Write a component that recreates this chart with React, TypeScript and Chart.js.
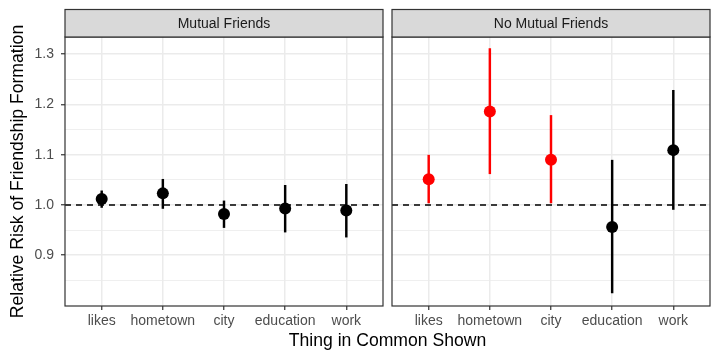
import React, { useEffect, useRef } from "react";
import { Chart, registerables } from "chart.js";

Chart.register(...registerables);

// ---------- data ----------
const CATEGORIES = ["likes", "hometown", "city", "education", "work"];
const PANEL_TITLES = ["Mutual Friends", "No Mutual Friends"];

const MUTUAL_ESTIMATE = [1.012, 1.023, 0.982, 0.993, 0.989];
const MUTUAL_LOW = [0.995, 0.993, 0.955, 0.946, 0.936];
const MUTUAL_HIGH = [1.028, 1.051, 1.008, 1.039, 1.041];
const MUTUAL_SIGNIFICANT = [false, false, false, false, false];

const NO_MUTUAL_ESTIMATE = [1.051, 1.186, 1.09, 0.956, 1.109];
const NO_MUTUAL_LOW = [1.004, 1.062, 1.004, 0.825, 0.991];
const NO_MUTUAL_HIGH = [1.099, 1.311, 1.178, 1.089, 1.228];
const NO_MUTUAL_SIGNIFICANT = [true, true, true, false, false];

const Y_MAJOR_TICKS = [0.9, 1.0, 1.1, 1.2, 1.3];
const Y_MINOR_TICKS = [0.85, 0.95, 1.05, 1.15, 1.25];
const Y_MIN = 0.799;
const Y_MAX = 1.334;
const X_MIN = -0.6;
const X_MAX = 4.6;
const REFERENCE_VALUE = 1.0;

const Y_TITLE = "Relative Risk of Friendship Formation";
const X_TITLE = "Thing in Common Shown";

// ---------- style ----------
const W = 720;
const H = 360;
const FONT = "'Liberation Sans', Arial, Helvetica, sans-serif";
const GRID = "#EBEBEB";
const BORDER = "#333333";
const TEXT_TICK = "#4D4D4D";
const STRIP_FILL = "#D9D9D9";
const STRIP_H = 27.5;
const SIG_COLOR = "#FF0000";
const NS_COLOR = "#000000";

const LEFT_PANEL_LEFT = 65;
const LEFT_PANEL_RIGHT = 383;
const RIGHT_PANEL_LEFT = 392;
const RIGHT_PANEL_RIGHT = 710;
const PANEL_TOP = 37;
const X_AXIS_H = 54;

const stripPlugin = {
  id: "strip",
  afterDraw(chart: any, _args: any, opts: any) {
    const { ctx, chartArea } = chart;
    const { left, right, top } = chartArea;
    ctx.save();
    ctx.fillStyle = STRIP_FILL;
    ctx.fillRect(left, top - STRIP_H, right - left, STRIP_H);
    ctx.strokeStyle = BORDER;
    ctx.lineWidth = 1.2;
    ctx.strokeRect(left, top - STRIP_H, right - left, STRIP_H);
    ctx.fillStyle = "#1A1A1A";
    ctx.font = `14px ${FONT}`;
    ctx.textAlign = "center";
    ctx.textBaseline = "middle";
    ctx.fillText(opts.label, (left + right) / 2, top - STRIP_H / 2 + 0.5);
    ctx.restore();
  },
};

const refLinePlugin = {
  id: "refLine",
  beforeDatasetsDraw(chart: any, _args: any, opts: any) {
    const { ctx, chartArea } = chart;
    const y = chart.scales.y.getPixelForValue(opts.value);
    ctx.save();
    ctx.strokeStyle = "#000000";
    ctx.lineWidth = 1.6;
    ctx.setLineDash([6, 5]);
    ctx.beginPath();
    ctx.moveTo(chartArea.left, y);
    ctx.lineTo(chartArea.right, y);
    ctx.stroke();
    ctx.restore();
  },
};

const borderPlugin = {
  id: "panelBorder",
  afterDatasetsDraw(chart: any) {
    const { ctx, chartArea } = chart;
    ctx.save();
    ctx.strokeStyle = BORDER;
    ctx.lineWidth = 1.2;
    ctx.strokeRect(
      chartArea.left,
      chartArea.top,
      chartArea.right - chartArea.left,
      chartArea.bottom - chartArea.top
    );
    ctx.restore();
  },
};

const xTitlePlugin = {
  id: "xTitle",
  afterDraw(chart: any, _args: any, opts: any) {
    if (!opts || !opts.text) return;
    const { ctx } = chart;
    ctx.save();
    ctx.fillStyle = "#000000";
    ctx.font = `17.6px ${FONT}`;
    ctx.textAlign = "center";
    ctx.textBaseline = "alphabetic";
    ctx.fillText(opts.text, (LEFT_PANEL_LEFT + RIGHT_PANEL_RIGHT) / 2, 345.5);
    ctx.restore();
  },
};

const isMajor = (v: number) => Y_MAJOR_TICKS.some((t) => Math.abs(t - v) < 1e-9);

function makeConfig(
  panelIndex: number,
  est: number[],
  low: number[],
  high: number[],
  sig: boolean[]
): any {
  const isLeft = panelIndex === 0;
  const colors = sig.map((s) => (s ? SIG_COLOR : NS_COLOR));
  return {
    type: "bar",
    data: {
      datasets: [
        {
          type: "scatter",
          order: 0,
          data: CATEGORIES.map((_, i) => ({ x: i, y: est[i] })),
          backgroundColor: colors,
          borderWidth: 0,
          pointRadius: 6,
          pointHoverRadius: 6,
        },
        {
          type: "bar",
          order: 1,
          data: CATEGORIES.map((_, i) => ({ x: i, y: [low[i], high[i]] })),
          backgroundColor: colors,
          borderWidth: 0,
          barThickness: 1.8,
          borderSkipped: false,
        },
      ],
    },
    options: {
      responsive: false,
      animation: false,
      events: [],
      layout: {
        padding: isLeft
          ? { left: 0, right: W - LEFT_PANEL_RIGHT, top: PANEL_TOP, bottom: 0 }
          : { left: RIGHT_PANEL_LEFT, right: W - RIGHT_PANEL_RIGHT, top: PANEL_TOP, bottom: 0 },
      },
      plugins: {
        legend: { display: false },
        tooltip: { enabled: false },
        strip: { label: PANEL_TITLES[panelIndex] },
        refLine: { value: REFERENCE_VALUE },
        xTitle: { text: isLeft ? X_TITLE : "" },
      },
      scales: {
        x: {
          type: "linear",
          min: X_MIN,
          max: X_MAX,
          offset: false,
          afterBuildTicks: (scale: any) => {
            scale.ticks = CATEGORIES.map((_, i) => ({ value: i }));
          },
          afterFit: (scale: any) => {
            scale.height = X_AXIS_H;
          },
          ticks: {
            autoSkip: false,
            maxRotation: 0,
            padding: 2.5,
            color: TEXT_TICK,
            font: { family: FONT, size: 14 },
            callback: (v: any) => CATEGORIES[Math.round(v)] ?? "",
          },
          grid: {
            offset: false,
            color: GRID,
            lineWidth: 1.5,
            drawTicks: true,
            tickLength: 4,
            tickColor: BORDER,
            tickWidth: 1.2,
          },
          border: { display: false },
        },
        y: {
          type: "linear",
          min: Y_MIN,
          max: Y_MAX,
          afterBuildTicks: (scale: any) => {
            scale.ticks = [...Y_MAJOR_TICKS, ...Y_MINOR_TICKS]
              .sort((a, b) => a - b)
              .map((v) => ({ value: v }));
          },
          afterFit: (scale: any) => {
            scale.width = isLeft ? LEFT_PANEL_LEFT : 0;
          },
          ticks: {
            display: isLeft,
            autoSkip: false,
            padding: 7,
            color: TEXT_TICK,
            font: { family: FONT, size: 14 },
            callback: (v: any) => (isMajor(v) ? Number(v).toFixed(1) : ""),
          },
          grid: {
            color: GRID,
            lineWidth: (ctx: any) => (ctx.tick && isMajor(ctx.tick.value) ? 1.5 : 0.8),
            drawTicks: isLeft,
            tickLength: 4,
            tickWidth: 1.2,
            tickColor: (ctx: any) =>
              ctx.tick && isMajor(ctx.tick.value) ? BORDER : "rgba(0,0,0,0)",
          },
          border: { display: false },
          title: {
            display: isLeft,
            text: Y_TITLE,
            color: "#000000",
            font: { family: FONT, size: 17.6 },
            padding: { top: 8, bottom: 0 },
          },
        },
      },
    },
    plugins: [refLinePlugin, borderPlugin, stripPlugin, xTitlePlugin],
  };
}

export default function App() {
  const leftRef = useRef<HTMLCanvasElement | null>(null);
  const rightRef = useRef<HTMLCanvasElement | null>(null);

  useEffect(() => {
    document.body.style.margin = "0";
    const charts: Chart[] = [];
    if (leftRef.current) {
      charts.push(
        new Chart(
          leftRef.current,
          makeConfig(0, MUTUAL_ESTIMATE, MUTUAL_LOW, MUTUAL_HIGH, MUTUAL_SIGNIFICANT)
        )
      );
    }
    if (rightRef.current) {
      charts.push(
        new Chart(
          rightRef.current,
          makeConfig(1, NO_MUTUAL_ESTIMATE, NO_MUTUAL_LOW, NO_MUTUAL_HIGH, NO_MUTUAL_SIGNIFICANT)
        )
      );
    }
    return () => charts.forEach((c) => c.destroy());
  }, []);

  const canvasStyle: React.CSSProperties = {
    position: "absolute",
    left: 0,
    top: 0,
    width: W,
    height: H,
  };

  return (
    <div style={{ position: "fixed", left: 0, top: 0, width: W, height: H, background: "#FFFFFF" }}>
      <canvas ref={leftRef} width={W} height={H} style={canvasStyle} />
      <canvas ref={rightRef} width={W} height={H} style={canvasStyle} />
    </div>
  );
}
